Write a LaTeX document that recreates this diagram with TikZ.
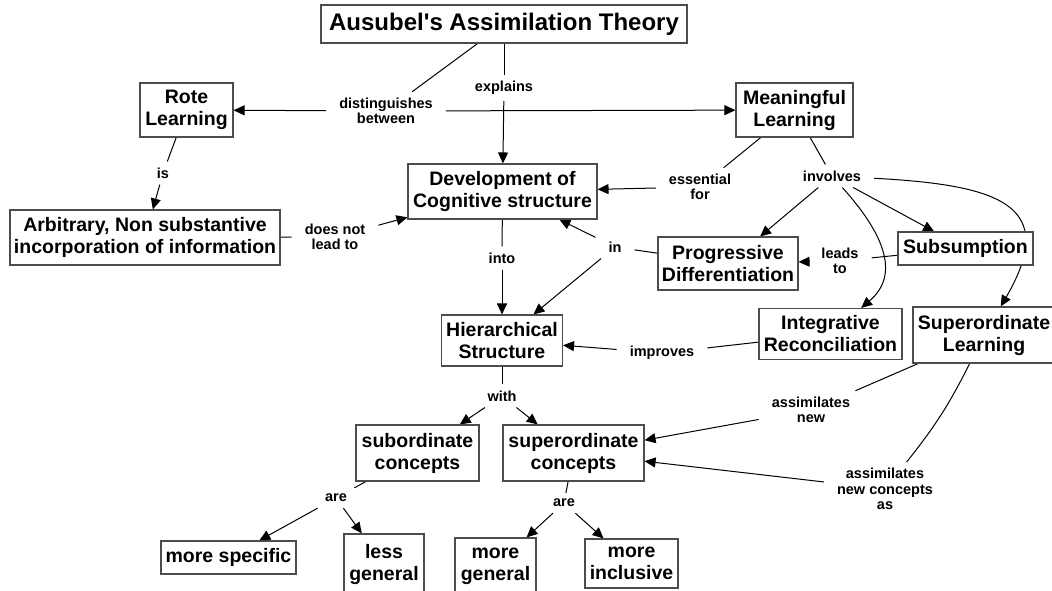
\documentclass[tikz,border=0pt]{standalone}
\usepackage{fontspec}
\newfontfamily\cmapfont{Liberation Sans}
\usetikzlibrary{arrows.meta}
\pgfdeclarelayer{bg}
\pgfsetlayers{bg,main}
\begin{document}
\begin{tikzpicture}[x=1pt,y=-1pt,
  concept/.style={draw=black!70, line width=1.1pt, fill=white, inner sep=0pt,
    align=center, text=black, font=\cmapfont\bfseries\fontsize{19.5}{22}\selectfont},
  linkph/.style={inner xsep=13pt, inner ysep=6pt, align=center, text=black,
    font=\cmapfont\bfseries\fontsize{14.5}{15.5}\selectfont},
  conn/.style={draw=black, line width=1pt},
  arr/.style={conn, -{Triangle[length=11pt,width=10pt]}},
]
\useasboundingbox (0,0) rectangle (1052,590);
\clip (0,0) rectangle (1052,590);

% concepts
\node[concept, minimum width=366pt, minimum height=38pt,
  font=\cmapfont\bfseries\fontsize{24}{26}\selectfont] (title) at (504,24) {Ausubel\char"27 s Assimilation Theory};
\node[concept, minimum width=93pt, minimum height=54pt] (rote) at (186.5,110) {Rote\\Learning};
\node[concept, minimum width=117pt, minimum height=54pt] (meaningful) at (794.5,110) {Meaningful\\Learning};
\node[concept, minimum width=270pt, minimum height=55pt] (arbitrary) at (145,237.5) {Arbitrary, Non substantive\\incorporation of information};
\node[concept, minimum width=189pt, minimum height=55pt] (dev) at (502.5,191.5) {Development of\\Cognitive structure};
\node[concept, minimum width=140pt, minimum height=53pt] (prog) at (728,263.5) {Progressive\\Differentiation};
\node[concept, minimum width=135pt, minimum height=33pt] (subs) at (965.5,248.5) {Subsumption};
\node[concept, minimum width=143pt, minimum height=51pt] (integ) at (830.5,334) {Integrative\\Reconciliation};
\node[concept, minimum width=142pt, minimum height=56pt] (superlearn) at (984,335) {Superordinate\\Learning};
\node[concept, minimum width=121pt, minimum height=51pt] (hier) at (502,340.5) {Hierarchical\\Structure};
\node[concept, minimum width=123pt, minimum height=56pt] (subconc) at (417.5,453) {subordinate\\concepts};
\node[concept, minimum width=141pt, minimum height=56pt] (superconc) at (573.5,453) {superordinate\\concepts};
\node[concept, minimum width=135pt, minimum height=33pt] (morespec) at (228.5,557.5) {more specific};
\node[concept, minimum width=80pt, minimum height=60pt] (lessgen) at (384,564) {less\\general};
\node[concept, minimum width=81pt, minimum height=56pt] (moregen) at (495.5,566) {more\\general};
\node[concept, minimum width=93pt, minimum height=49pt] (moreincl) at (631.5,563.5) {more\\inclusive};

% linking phrases
\node[linkph] (dist) at (386,111) {distinguishes\\between};
\node[linkph] (expl) at (504,88) {explains};
\node[linkph] (is) at (163,173) {is};
\node[linkph] (dnlt) at (335,237) {does not\\lead to};
\node[linkph] (essfor) at (700,187) {essential\\for};
\node[linkph] (inv) at (832,176) {involves};
\node[linkph] (into) at (502,258) {into};
\node[linkph] (inlab) at (615,247) {in};
\node[linkph] (leads) at (840,261) {leads\\to};
\node[linkph] (impr) at (662,353) {improves};
\node[linkph] (with) at (502,396) {with};
\node[linkph] (asnew) at (811,410) {assimilates\\new};
\node[linkph] (asconc) at (885,489) {assimilates\\new concepts\\as};
\node[linkph] (are1) at (336,498) {are};
\node[linkph] (are2) at (564,503) {are};

\begin{pgfonlayer}{bg}
\draw[conn] (title) -- (dist);
\draw[arr] (dist) -- (rote);
\draw[arr] (dist) -- (meaningful);
\draw[conn] (title) -- (expl);
\draw[arr] (expl) -- (dev);
\draw[conn] (rote) -- (is);
\draw[arr] (is) -- (arbitrary);
\draw[conn] (arbitrary) -- (dnlt);
\draw[arr] (dnlt) -- (dev);
\draw[conn] (meaningful) -- (essfor);
\draw[arr] (essfor) -- (dev);
\draw[conn] (meaningful) -- (inv);
\draw[arr] (inv) -- (prog);
\draw[arr] (inv) -- (subs);
\draw[arr] (inv) .. controls (885,235) and (900,275) .. (integ);
\draw[arr] (inv) .. controls (1000,185) and (1060,205) .. (superlearn);
\draw[conn] (subs) -- (leads);
\draw[arr] (leads) -- (prog);
\draw[conn] (prog) -- (inlab);
\draw[arr] (inlab) -- (dev);
\draw[arr] (inlab) -- (hier);
\draw[conn] (dev) -- (into);
\draw[arr] (into) -- (hier);
\draw[conn] (integ) -- (impr);
\draw[arr] (impr) -- (hier);
\draw[conn] (hier) -- (with);
\draw[arr] (with) -- (subconc);
\draw[arr] (with) -- (superconc);
\draw[conn] (superlearn) -- (asnew);
\draw[arr] (asnew) -- (superconc);
\draw[conn] (superlearn) to[bend left=6] (asconc);
\draw[arr] (asconc) -- (superconc);
\draw[conn] (subconc) -- (are1);
\draw[arr] (are1) -- (morespec);
\draw[arr] (are1) -- (lessgen);
\draw[conn] (superconc) -- (are2);
\draw[arr] (are2) -- (moregen);
\draw[arr] (are2) -- (moreincl);
\end{pgfonlayer}
\end{tikzpicture}
\end{document}
